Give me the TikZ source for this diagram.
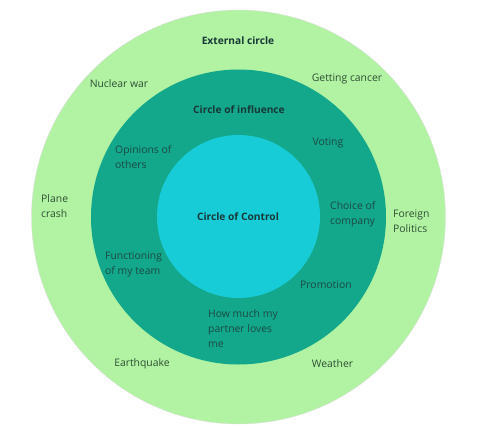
\documentclass[tikz,border=0pt]{standalone}
\usepackage{fontspec}
\setmainfont{Open Sans}
\usetikzlibrary{positioning}
\definecolor{outergreen}{HTML}{B1F3A2}
\definecolor{midteal}{HTML}{13A78B}
\definecolor{innercyan}{HTML}{17CCD6}
\definecolor{outertext}{HTML}{2F4F35}
\definecolor{midtext}{HTML}{1C4A43}
\definecolor{headtext}{HTML}{183838}

\begin{document}
\begin{tikzpicture}[
    x=1pt, y=-1pt,
    font=\fontsize{10.4}{15}\selectfont,
    ring/.style={
        circle,
        inner sep=0pt,
        outer sep=0pt
    },
    head/.style={
        font=\fontsize{10.2}{15}\selectfont\bfseries,
        text=headtext
    },
    outlabel/.style={
        text=outertext,
        align=left,
        inner sep=0pt
    },
    inlabel/.style={
        text=midtext,
        align=left,
        inner sep=0pt
    }
]
\useasboundingbox (0,0) rectangle (480,429);

% rings
\node[ring, fill=outergreen, draw=black!12, line width=0.4pt, minimum size=414pt] (ext) at (238.5,217) {};
\node[ring, fill=midteal, minimum size=295pt] (infl) at (238.5,217) {};
\node[ring, fill=innercyan, minimum size=163pt] (ctrl) at (238.5,216.5) {};

% headings
\node[head] (exthead) at (238,41) {External circle};
\node[head] (inflhead) at (239,110) {Circle of influence};
\node[head] (ctrlhead) at (238,217) {Circle of Control};

% external circle
\node[outlabel] (nuclear) at (119,84) {Nuclear war};
\node[outlabel] (cancer) at (347,79) {Getting cancer};
\node[outlabel, anchor=west] (plane) at (41,206.5) {Plane\\crash};
\node[outlabel, anchor=west] (foreign) at (393,221) {Foreign\\Politics};
\node[outlabel] (quake) at (142,364) {Earthquake};
\node[outlabel] (weather) at (332.5,364) {Weather};

% circle of influence
\node[inlabel] (voting) at (328,143) {Voting};
\node[inlabel, anchor=west] (opinions) at (115,157.5) {Opinions of\\others};
\node[inlabel, anchor=west] (choice) at (330,214.5) {Choice of\\company};
\node[inlabel, anchor=west] (team) at (105,264.5) {Functioning\\of my team};
\node[inlabel, anchor=west] (promo) at (300,285) {Promotion};
\node[inlabel, anchor=west] (partner) at (208,329) {How much my\\partner loves\\me};

\end{tikzpicture}
\end{document}
